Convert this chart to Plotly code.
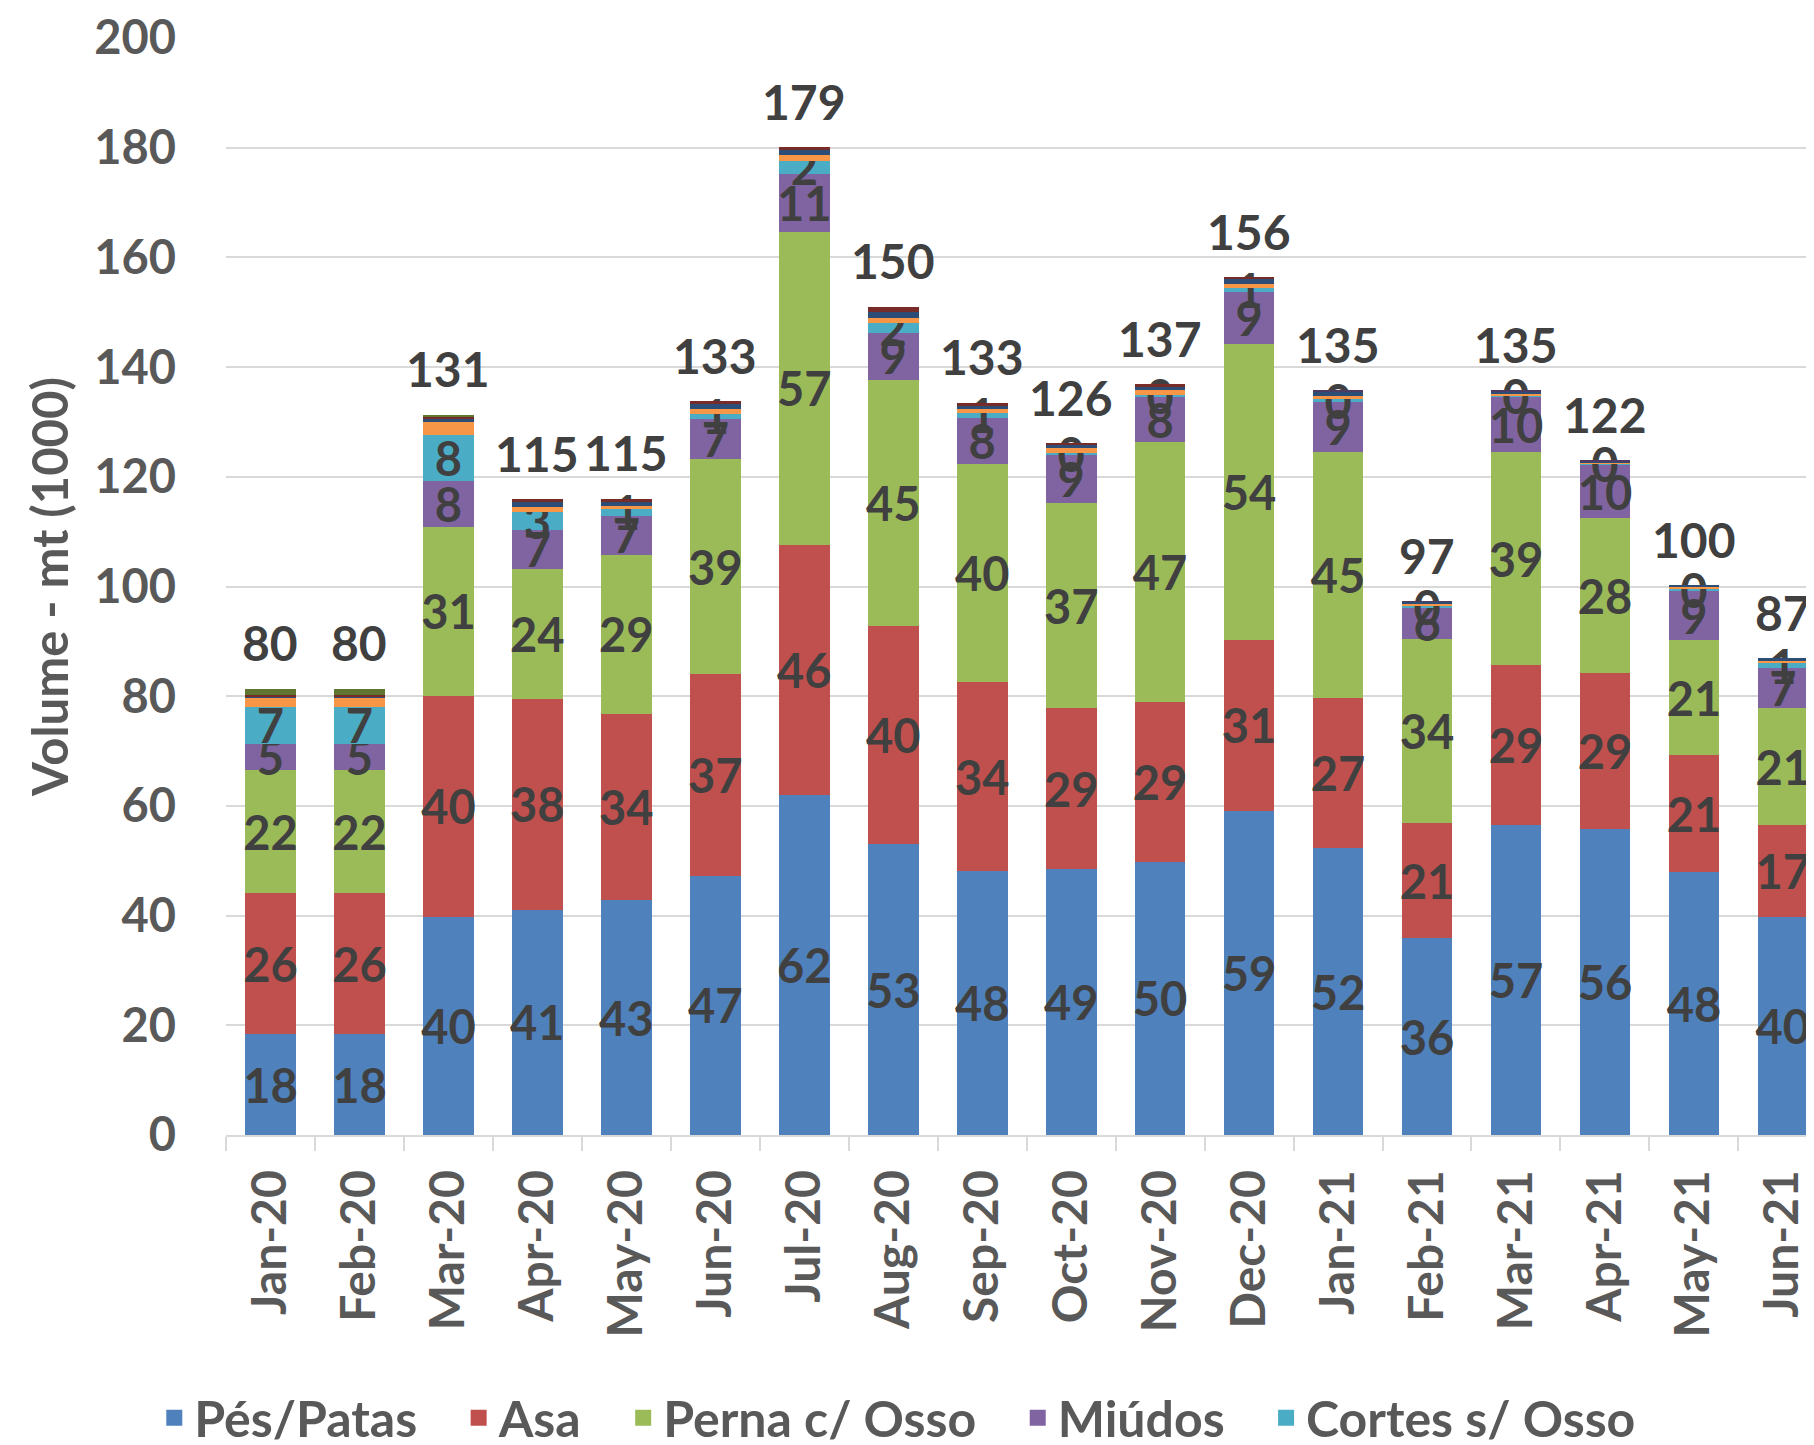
import plotly.graph_objects as go

# ── Data (volume, mt x1000) ───────────────────────────────────────────────────
months = ["Jan-20", "Feb-20", "Mar-20", "Apr-20", "May-20", "Jun-20", "Jul-20",
          "Aug-20", "Sep-20", "Oct-20", "Nov-20", "Dec-20", "Jan-21", "Feb-21",
          "Mar-21", "Apr-21", "May-21", "Jun-21"]

pes_patas = [18.4, 18.4, 39.7, 41.1, 42.8, 47.3, 62.0, 53.0, 48.1, 48.5, 49.8, 59.1,
             52.3, 35.9, 56.6, 55.7, 47.9, 39.7]
asa = [25.7, 25.7, 40.4, 38.4, 34.0, 36.7, 45.6, 39.8, 34.4, 29.3, 29.1, 31.2,
       27.4, 20.9, 29.1, 28.5, 21.3, 16.8]
perna = [22.4, 22.4, 30.8, 23.7, 28.9, 39.2, 57.0, 44.8, 39.9, 37.4, 47.4, 54.0,
         44.8, 33.7, 38.8, 28.2, 21.0, 21.3]
miudos = [4.8, 4.8, 8.4, 7.1, 7.2, 7.4, 10.6, 8.7, 8.4, 8.8, 8.2, 9.4,
          9.2, 5.6, 10.0, 9.7, 8.9, 7.3]
cortes = [6.8, 6.8, 8.3, 3.3, 1.2, 0.9, 2.4, 1.8, 0.9, 0.4, 0.45, 0.7,
          0.4, 0.35, 0.4, 0.4, 0.4, 0.9]
# small series without labels / legend entries
serie6 = [1.6, 1.6, 2.4, 0.9, 0.5, 0.9, 1.0, 0.9, 0.6, 0.85, 0.9, 0.8,
          0.6, 0.5, 0.2, 0.1, 0.5, 0.5]
serie7 = [0.3, 0.3, 0.5, 0.9, 0.8, 0.9, 0.9, 1.1, 0.7, 0.5, 0.7, 0.8,
          0.7, 0.3, 0.4, 0.2, 0.1, 0.4]
serie8 = [0.3, 0.3, 0.4, 0.5, 0.6, 0.5, 0.6, 0.9, 0.5, 0.4, 0.3, 0.4,
          0, 0, 0, 0, 0, 0]
serie9 = [1.1, 1.1, 0.4, 0, 0, 0, 0, 0, 0, 0, 0, 0,
          0, 0, 0, 0, 0, 0]
serie10 = [0, 0, 0, 0, 0, 0, 0, 0, 0, 0, 0, 0,
           0.4, 0.1, 0.3, 0.1, 0, 0]

totals = [80, 80, 131, 115, 115, 133, 179, 150, 133, 126, 137, 156,
          135, 97, 135, 122, 100, 87]

FONT = "Lato, 'Open Sans', sans-serif"
LABEL_COLOR = "#404040"
AXIS_COLOR = "#595959"
FS = 47
PAD = "\u00a0\u00a0\u00a0"   # extra room between legend entries

labelled = [
    ("Pés/Patas", pes_patas, "#4F81BD"),
    ("Asa", asa, "#C0504D"),
    ("Perna c/ Osso", perna, "#9BBB59"),
    ("Miúdos", miudos, "#8064A2"),
    ("Cortes s/ Osso", cortes, "#4BACC6"),
]
unlabelled = [
    ("Série 6", serie6, "#F79646"),
    ("Série 7", serie7, "#2C4D75"),
    ("Série 8", serie8, "#772C2A"),
    ("Série 9", serie9, "#5F7530"),
    ("Série 10", serie10, "#4D3B62"),
]

fig = go.Figure()

for name, vals, color in labelled:
    fig.add_trace(go.Bar(
        x=months, y=vals, name=name, legendgroup=name, showlegend=False,
        marker=dict(color=color, line=dict(width=0)),
        texttemplate="%{y:.0f}", textposition="inside",
        insidetextanchor="middle", textangle=0,
        textfont=dict(family=FONT, size=FS, color=LABEL_COLOR, weight="bold"),
        hoverinfo="skip",
    ))

for name, vals, color in unlabelled:
    fig.add_trace(go.Bar(
        x=months, y=vals, name=name, showlegend=False,
        marker=dict(color=color, line=dict(width=0)),
        hoverinfo="skip",
    ))

# legend-only entries with square swatches
for i, (name, vals, color) in enumerate(labelled):
    fig.add_trace(go.Scatter(
        x=[None], y=[None], mode="markers",
        name=name + (PAD if i < len(labelled) - 1 else ""), legendgroup=name,
        marker=dict(symbol="square", size=30, color=color),
        hoverinfo="skip",
    ))

# totals above each stack
stack_top = [sum(v[i] for _, v, _ in labelled + unlabelled) for i in range(len(months))]
for m, top, tot in zip(months, stack_top, totals):
    fig.add_annotation(
        x=m, y=top, text=str(tot), showarrow=False,
        yanchor="middle", yshift=46,
        font=dict(family=FONT, size=FS + 1, color=LABEL_COLOR, weight="bold"),
    )

# page body adds an 8px margin, so the figure is sized 8px short on each axis
fig.update_layout(
    width=1806, height=1437,
    barmode="stack", bargap=0.43,
    paper_bgcolor="white", plot_bgcolor="white",
    margin=dict(l=218, r=0, t=30, b=310),
    uniformtext=dict(minsize=FS, mode="show"),
    font=dict(family=FONT, color=AXIS_COLOR),
    showlegend=True,
    legend=dict(
        orientation="h", xref="container", yref="container",
        x=0.081, xanchor="left", y=0.019, yanchor="middle",
        font=dict(family=FONT, size=50, color=AXIS_COLOR, weight="bold"),
        itemsizing="trace", traceorder="normal",
    ),
)

fig.update_xaxes(
    type="category", range=[-0.5, 17.35], automargin=False,
    showline=True, linecolor="#D9D9D9", linewidth=2,
    ticks="outside", tickson="boundaries", ticklen=14, tickcolor="#D9D9D9",
    tickwidth=2, tickangle=-90, ticklabelstandoff=14,
    tickfont=dict(family=FONT, size=FS + 1, color=AXIS_COLOR, weight="bold"),
    showgrid=False,
)
fig.update_yaxes(
    range=[0, 200], dtick=20, automargin=False,
    showgrid=True, gridcolor="#D9D9D9", gridwidth=2,
    zeroline=False, showline=False, ticks="",
    ticklabelstandoff=49,
    tickfont=dict(family=FONT, size=FS, color=AXIS_COLOR, weight="bold"),
    title=dict(text="Volume - mt (1000)", standoff=10,
               font=dict(family=FONT, size=49, color=AXIS_COLOR, weight="bold")),
)

fig.write_html("out.html")
